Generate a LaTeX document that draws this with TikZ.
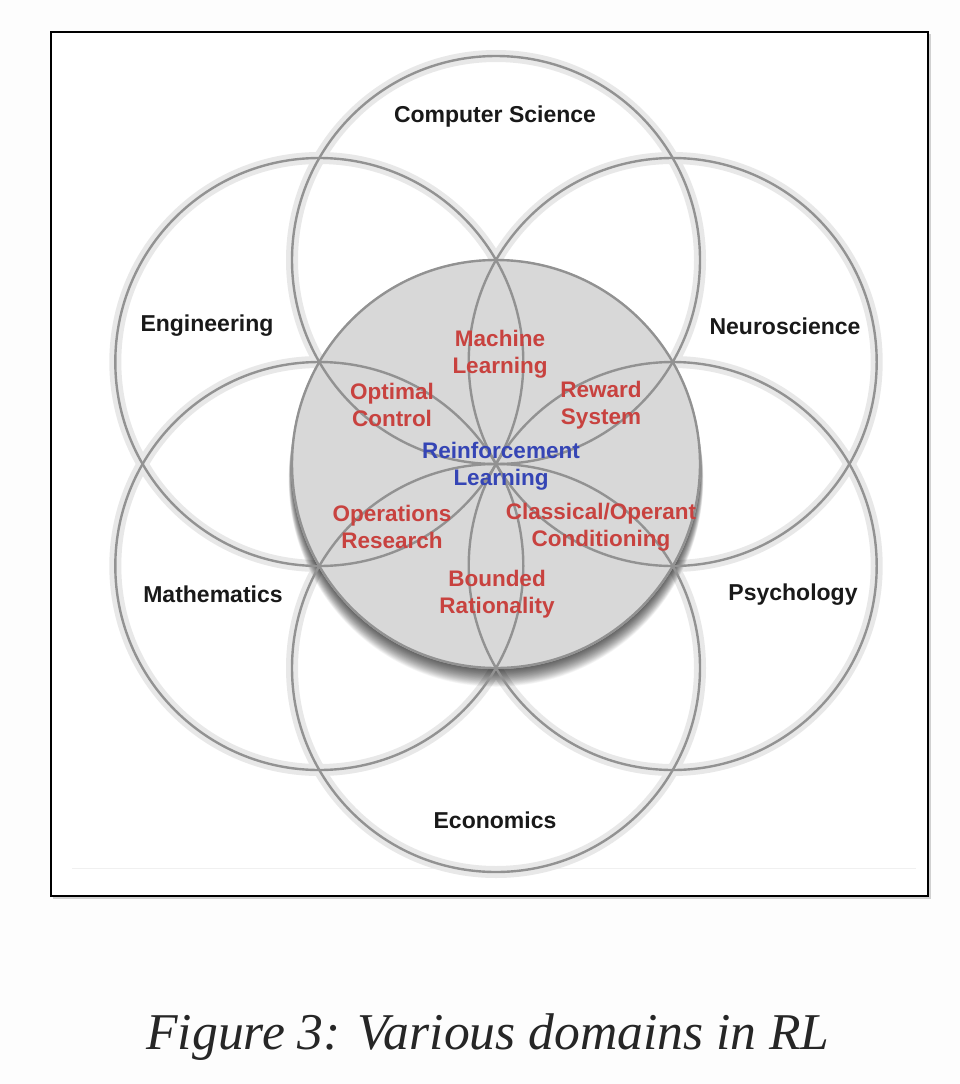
\documentclass[tikz,border=0pt]{standalone}
\usepackage{fontspec}
\newfontfamily\lab{Liberation Sans}
\newfontfamily\capfont{Liberation Serif}
\usetikzlibrary{calc}
\definecolor{ringgray}{HTML}{929292}
\definecolor{fillgray}{HTML}{D8D8D8}
\definecolor{labred}{HTML}{C8423F}
\definecolor{labblue}{HTML}{3545B5}
\definecolor{pagebg}{HTML}{FDFDFD}
\begin{document}
\begin{tikzpicture}[x=1pt,y=-1pt,
  fieldlabel/.style={font=\lab\bfseries\fontsize{23}{27}\selectfont, text=black!90, inner sep=0pt},
  sublabel/.style={font=\lab\bfseries\fontsize{22.5}{27}\selectfont, text=labred, align=center, inner sep=0pt},
  corelabel/.style={sublabel, text=labblue},
  ring/.style={draw=ringgray, line width=2.4pt},
  halo/.style={draw=black!9, line width=12pt}]
\useasboundingbox (0,0) rectangle (960,1084);
\fill[pagebg] (0,0) rectangle (960,1084);
% frame
\fill[black!18] (52.5,34) rectangle (930.5,898.5);
\draw[black, line width=2pt, fill=white] (50.5,32) rectangle (928,896);
\draw[black!6, line width=1pt] (72,868) -- (916,868);
% circle centres
\coordinate (C)  at (496,464);
\coordinate (CS) at (496,260);
\coordinate (EC) at (496,668);
\coordinate (EN) at (319.3,362);
\coordinate (MA) at (319.3,566);
\coordinate (NE) at (672.7,362);
\coordinate (PS) at (672.7,566);
% halos
\foreach \c in {CS,EC,EN,MA,NE,PS}
  \draw[halo] (\c) circle[radius=204];
% shadow of the central disc
\foreach \k in {1,...,28}
  \fill[black, opacity=0.03] ($(C)+(0,\k*0.55)$) circle[radius=204+\k*0.12];
% central disc
\fill[fillgray] (C) circle[radius=205];
% rings
\foreach \c in {CS,EC,EN,MA,NE,PS,C}
  \draw[ring] (\c) circle[radius=204];
% outer labels
\node[fieldlabel] (cs)  at (495,117) {Computer Science};
\node[fieldlabel] (eng) at (207,326) {Engineering};
\node[fieldlabel] (neu) at (785,326) {Neuroscience};
\node[fieldlabel] (mat) at (213,594) {Mathematics};
\node[fieldlabel] (psy) at (793,595) {Psychology};
\node[fieldlabel] (eco) at (495,820) {Economics};
% inner labels
\node[sublabel] (ml) at (500,354) {Machine\\Learning};
\node[sublabel] (oc) at (392,405) {Optimal\\Control};
\node[sublabel] (rs) at (601,405) {Reward\\System};
\node[corelabel] (rl) at (501,466) {Reinforcement\\Learning};
\node[sublabel] (or) at (392,527) {Operations\\Research};
\node[sublabel] (co) at (601,527) {Classical/Operant\\Conditioning};
\node[sublabel] (br) at (497,594) {Bounded\\Rationality};
% caption
\node[inner sep=0pt, text=black!85] (cap) at (488,1037) {\capfont\itshape\fontsize{51.6}{58}\selectfont Figure 3: Various domains in RL};
\end{tikzpicture}
\end{document}
